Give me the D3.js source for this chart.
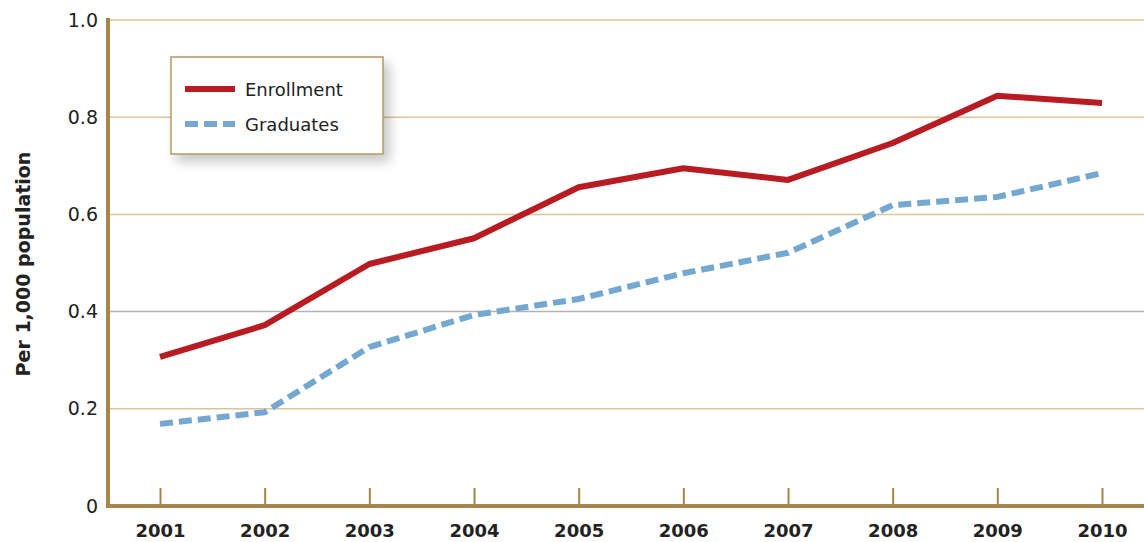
<!DOCTYPE html>
<html>
<head>
<meta charset="utf-8">
<script src="https://cdn.jsdelivr.net/npm/d3@7"></script>
<style>
  html, body { margin: 0; padding: 0; background: #ffffff; }
  svg { display: block; font-family: "DejaVu Sans", "Liberation Sans", Arial, sans-serif; }
</style>
</head>
<body>
<svg id="chart" width="1144" height="542"></svg>
<script>
// Years on the horizontal axis
const years = ["2001", "2002", "2003", "2004", "2005", "2006", "2007", "2008", "2009", "2010"];
// Rates per 1,000 population
const enrollment = [0.307, 0.372, 0.498, 0.551, 0.656, 0.695, 0.671, 0.747, 0.844, 0.829];
const graduates  = [0.169, 0.193, 0.327, 0.393, 0.426, 0.479, 0.521, 0.619, 0.636, 0.685];
// Vertical tick values and labels
const yTicks = [0, 0.2, 0.4, 0.6, 0.8, 1.0];
const yTickLabels = ["0", "0.2", "0.4", "0.6", "0.8", "1.0"];
const seriesNames = ["Enrollment", "Graduates"];

const svg = d3.select("#chart");
const W = 1144, H = 542;
const plotLeft = 108, plotTop = 20, plotBottom = 506;
const FONT = '"DejaVu Sans", "Liberation Sans", Arial, sans-serif';

const x = d3.scalePoint().domain(years).range([160, 1102]);
const y = d3.scaleLinear().domain([0, 1]).range([plotBottom, plotTop]);

const brown = "#a5854b";
const gold = "#dcc594";

// Horizontal gridlines
svg.append("g").selectAll("line")
  .data(yTicks.filter(d => d > 0))
  .join("line")
  .attr("x1", plotLeft).attr("x2", W)
  .attr("y1", d => y(d)).attr("y2", d => y(d))
  .attr("stroke", d => Math.abs(d - 0.4) < 1e-9 ? "#b3b3b3" : gold)
  .attr("stroke-width", 1.5);

// Y axis labels
const yAxis = d3.axisLeft(y).tickValues(yTicks)
  .tickFormat((d, i) => yTickLabels[i]).tickSize(0).tickPadding(10);
const gy = svg.append("g").attr("transform", `translate(${plotLeft},0)`).call(yAxis);
gy.attr("font-family", FONT).attr("font-size", 19);
gy.select(".domain").remove();
gy.selectAll("text").attr("fill", "#222");

// X axis ticks (pointing up) and bold year labels
const xAxis = d3.axisBottom(x).tickSizeInner(-18).tickSizeOuter(0).tickPadding(18);
const gx = svg.append("g").attr("transform", `translate(0,${plotBottom})`).call(xAxis);
gx.attr("font-family", FONT).attr("font-size", 18).attr("font-weight", "bold");
gx.select(".domain").remove();
gx.selectAll(".tick line").attr("stroke", brown).attr("stroke-width", 2);
gx.selectAll("text").attr("fill", "#222");

// Axis frame lines
svg.append("line").attr("x1", plotLeft).attr("x2", plotLeft).attr("y1", plotTop - 2).attr("y2", plotBottom + 2)
  .attr("stroke", brown).attr("stroke-width", 4);
svg.append("line").attr("x1", plotLeft - 2).attr("x2", W).attr("y1", plotBottom).attr("y2", plotBottom)
  .attr("stroke", brown).attr("stroke-width", 4);

// Y axis title
svg.append("text")
  .attr("transform", `translate(30,264) rotate(-90)`)
  .attr("text-anchor", "middle")
  .attr("font-size", 19).attr("font-weight", "bold").attr("fill", "#222")
  .text("Per 1,000 population");

// Series lines
const line = d3.line().x((d, i) => x(years[i])).y(d => y(d));
svg.append("path").datum(graduates)
  .attr("d", line).attr("fill", "none")
  .attr("stroke", "#74a8d1").attr("stroke-width", 6)
  .attr("stroke-dasharray", "13,6").attr("stroke-linejoin", "round");
svg.append("path").datum(enrollment)
  .attr("d", line).attr("fill", "none")
  .attr("stroke", "#b81c22").attr("stroke-width", 6).attr("stroke-linejoin", "round");

// Legend with soft drop shadow
const defs = svg.append("defs");
const f = defs.append("filter").attr("id", "shadow").attr("x", "-20%").attr("y", "-20%")
  .attr("width", "150%").attr("height", "160%");
f.append("feDropShadow").attr("dx", 6).attr("dy", 7).attr("stdDeviation", 6)
  .attr("flood-color", "#000").attr("flood-opacity", 0.22);

const lg = svg.append("g").attr("transform", "translate(171,57)");
lg.append("rect").attr("width", 212).attr("height", 97)
  .attr("fill", "#fff").attr("stroke", "#b09a5f").attr("stroke-width", 1.5)
  .attr("filter", "url(#shadow)");
const legendItems = [
  { name: seriesNames[0], color: "#b81c22", dash: null, dy: 32 },
  { name: seriesNames[1], color: "#74a8d1", dash: "13,6", dy: 67 }
];
legendItems.forEach(it => {
  lg.append("line").attr("x1", 14).attr("x2", 64).attr("y1", it.dy).attr("y2", it.dy)
    .attr("stroke", it.color).attr("stroke-width", 6)
    .attr("stroke-dasharray", it.dash);
  lg.append("text").attr("x", 74).attr("y", it.dy + 6.5)
    .attr("font-size", 18).attr("fill", "#222").text(it.name);
});
</script>
</body>
</html>
